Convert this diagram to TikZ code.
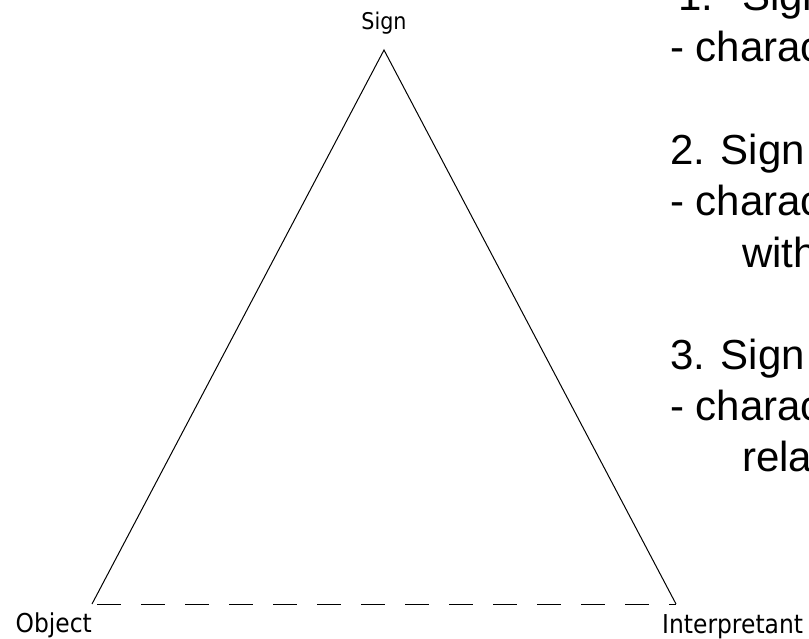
\documentclass[tikz,border=0pt]{standalone}
\usepackage{fontspec}
\setmainfont{Liberation Sans}
\newfontfamily\cornerfont{DejaVu Sans}[FakeStretch=0.9]
\usetikzlibrary{positioning}
\tikzset{
  corner label/.style={
    inner sep=0pt,
    font=\cornerfont\fontsize{26}{30}\selectfont,
  },
  side edge/.style={
    line width=1pt,
    draw=black,
  },
  base edge/.style={
    line width=1pt,
    draw=black,
    dash pattern=on 24pt off 20pt,
  },
  note line/.style={
    anchor=base west,
    inner sep=0pt,
    font=\fontsize{42}{51}\selectfont,
  },
}

\begin{document}
\begin{tikzpicture}[x=1pt,y=-1pt]
  \useasboundingbox (0,0) rectangle (809,638);
  \clip (0,0) rectangle (809,638);
  % corners of the triangle
  \coordinate (sign) at (384,50);
  \coordinate (object) at (92,604);
  \coordinate (interp) at (676,604);
  \node[corner label, anchor=base, font=\cornerfont\fontsize{23}{27}\selectfont] (signlabel) at (384,29) {Sign};
  \node[corner label, anchor=base east] (objlabel) at (92,632) {Object};
  \node[corner label, anchor=base west] (interplabel) at (662,633) {Interpretant};
  % sides
  \draw[side edge] (object) -- (sign) -- (interp);
  \draw[base edge, shorten <=5pt] (object) -- (interp);
  % notes on the right
  \node[note line] (n1) at (678,10) {1.};
  \node[note line] (n1a) at (742,10) {Sign};
  \node[note line] (n1b) at (670,61) {- character};
  \node[note line] (n2) at (670,164) {2. Sign};
  \node[note line] (n2a) at (670,215) {- character};
  \node[note line] (n2b) at (742,267) {with};
  \node[note line] (n3) at (670,369) {3. Sign};
  \node[note line] (n3a) at (670,420) {- character};
  \node[note line] (n3b) at (742,471) {relation};
\end{tikzpicture}
\end{document}
